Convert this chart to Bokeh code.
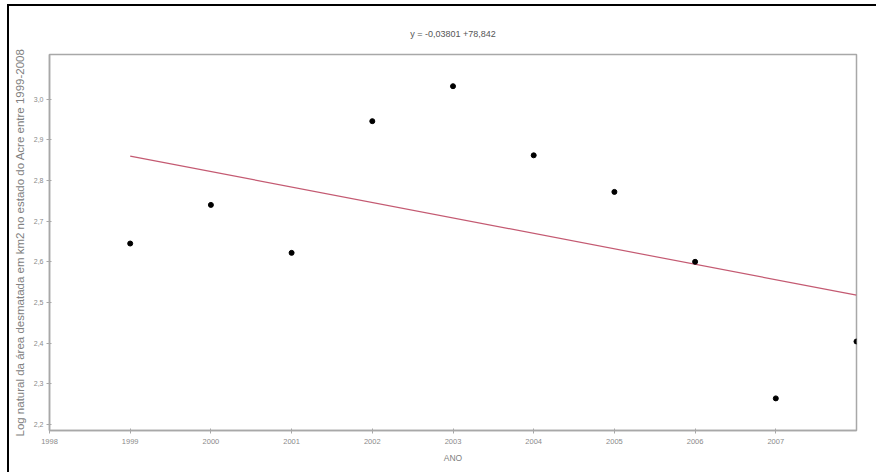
from bokeh.plotting import figure
from bokeh.embed import file_html
from bokeh.resources import INLINE
from bokeh.models import Range1d, FixedTicker, Title

years = [1999, 2000, 2001, 2002, 2003, 2004, 2005, 2006, 2007, 2008]
log_area = [2.645, 2.740, 2.622, 2.946, 3.032, 2.862, 2.772, 2.600, 2.264, 2.404]
slope = -0.03801
intercept = 78.842
title_text = "y = -0,03801 +78,842"
x_ticks = [1998, 1999, 2000, 2001, 2002, 2003, 2004, 2005, 2006, 2007]
y_ticks = [2.2, 2.3, 2.4, 2.5, 2.6, 2.7, 2.8, 2.9, 3.0]
y_tick_labels = ["2,2", "2,3", "2,4", "2,5", "2,6", "2,7", "2,8", "2,9", "3,0"]

p = figure(width=869, height=468, output_backend="svg", toolbar_location=None,
           x_range=Range1d(1998, 2008), y_range=Range1d(2.185, 3.11),
           min_border_left=40, min_border_right=22, min_border_top=48, min_border_bottom=44)
p.styles = {"margin-left": "7px", "margin-top": "4px",
            "border-left": "2px solid black", "border-top": "2px solid black"}

p.title = Title(text=title_text, align="center", text_font="Liberation Sans",
                text_font_size="9px", text_font_style="normal", text_color="#555555",
                offset=0, standoff=31)

p.xgrid.visible = False
p.ygrid.visible = False
p.outline_line_color = "#a8a8a8"
p.outline_line_width = 1.5

for ax in (p.xaxis[0], p.yaxis[0]):
    ax.axis_line_color = "#a8a8a8"
    ax.axis_line_width = 1.5
    ax.major_tick_line_color = "#a8a8a8"
    ax.major_tick_in = 2
    ax.major_tick_out = 3
    ax.minor_tick_line_color = None
    ax.major_label_text_font = "Liberation Sans"
    ax.major_label_text_color = "#8a8a8a"
    ax.axis_label_text_font = "Liberation Sans"
    ax.axis_label_text_font_style = "normal"
    ax.axis_label_text_color = "#808080"

p.xaxis.ticker = FixedTicker(ticks=x_ticks)
p.xaxis.major_label_overrides = {t: str(t) for t in x_ticks}
p.xaxis.major_label_text_font_size = "7.5px"
p.xaxis.axis_label = "ANO"
p.xaxis.axis_label_text_font_size = "8.5px"
p.xaxis.axis_label_standoff = 6
p.xaxis.major_label_standoff = 5

p.yaxis.ticker = FixedTicker(ticks=y_ticks)
p.yaxis.major_label_overrides = {t: l for t, l in zip(y_ticks, y_tick_labels)}
p.yaxis.major_label_text_font_size = "7px"
p.yaxis.axis_label = "Log natural da área desmatada em km2 no estado do Acre entre 1999-2008"
p.yaxis.axis_label_text_font_size = "11.5px"
p.yaxis.axis_label_standoff = 5
p.yaxis.major_label_standoff = 3

fit_x = [years[0], years[-1]]
fit_y = [intercept + slope * x for x in fit_x]
p.line(fit_x, fit_y, line_color="#c45a72", line_width=1.2)

p.scatter(years, log_area, size=5, color="black")

open("out.html", "w").write(file_html(p, INLINE))
